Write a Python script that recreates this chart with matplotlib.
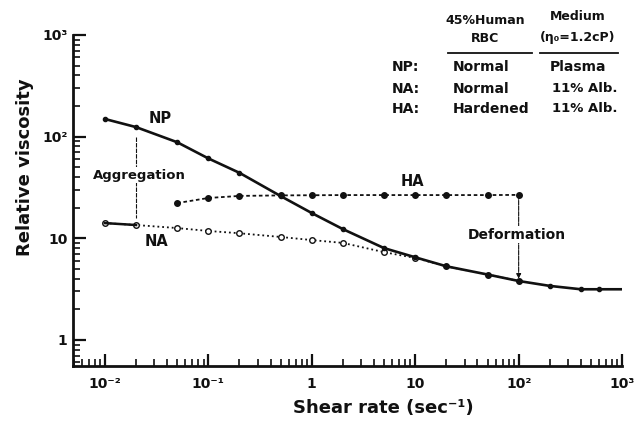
import numpy as np
import matplotlib
matplotlib.use("Agg")
import matplotlib.pyplot as plt
from matplotlib.ticker import FixedLocator, LogLocator, NullFormatter

# Data (shear rate in 1/s, relative viscosity)
np_rate = [0.01, 0.02, 0.05, 0.1, 0.2, 0.5, 1, 2, 5, 10, 20, 50, 100, 200, 400, 600, 1000]
np_visc = [149, 124, 88, 61, 44, 26, 17.7, 12.3, 8.0, 6.5, 5.3, 4.4, 3.8, 3.4, 3.15, 3.15, 3.15]

na_rate = [0.01, 0.02, 0.05, 0.1, 0.2, 0.5, 1, 2, 5, 10, 20, 50, 100]
na_visc = [14.1, 13.5, 12.6, 11.8, 11.2, 10.3, 9.6, 9.0, 7.3, 6.4, 5.3, 4.4, 3.8]

ha_rate = [0.05, 0.1, 0.2, 0.5, 1, 2, 5, 10, 20, 50, 100]
ha_visc = [22.2, 24.9, 26.1, 26.4, 26.5, 26.6, 26.6, 26.6, 26.6, 26.6, 26.7]

x_ticks = [1e-2, 1e-1, 1, 10, 1e2, 1e3]
x_ticklabels = ["10⁻²", "10⁻¹", "1", "10", "10²", "10³"]
y_ticks = [1, 10, 1e2, 1e3]
y_ticklabels = ["1", "10", "10²", "10³"]

# table text
tbl_rows = ["NP:", "NA:", "HA:"]
tbl_rbc = ["Normal", "Normal", "Hardened"]
tbl_medium = ["Plasma", "11% Alb.", "11% Alb."]

ink = "#111111"
plt.rcParams["font.family"] = ["DejaVu Sans"]

fig = plt.figure(figsize=(6.4, 4.26), dpi=100)
ax = fig.add_axes([0.114, 0.141, 0.858, 0.777])
ax.set_xscale("log")
ax.set_yscale("log")
ax.set_xlim(0.00491, 1000)
ax.set_ylim(0.555, 1000)

# curves
ax.plot(np_rate, np_visc, "-", color=ink, lw=1.9, marker="o", ms=3,
        markevery=list(range(len(np_rate) - 1)), zorder=4)
ax.plot(na_rate, na_visc, ":", color=ink, lw=1.3, marker="o", ms=4,
        mfc="white", mec=ink, mew=1.0, zorder=3)
ax.plot(na_rate[:2], na_visc[:2], "-", color=ink, lw=1.8, zorder=3)
ax.plot(ha_rate, ha_visc, color=ink, lw=1.3, ls=(0, (2, 1.5)), marker="o", ms=4,
        zorder=3)

# aggregation / deformation markers
ax.plot([np_rate[1], np_rate[1]], [99, 15.8], color=ink, lw=0.8, ls=(0, (4, 1)), zorder=2)
ax.annotate("", xy=(ha_rate[-1], 4.0), xytext=(ha_rate[-1], ha_visc[-1]),
            arrowprops=dict(arrowstyle="-|>", color=ink, lw=0.8, ls=(0, (4, 1)),
                            mutation_scale=7, shrinkA=0, shrinkB=0), zorder=2)

lab = dict(fontweight="bold", color=ink, ha="center", va="center")
ax.text(0.034, 152, "NP", fontsize=10.5, **lab)
ax.text(0.0318, 9.2, "NA", fontsize=10.5, **lab)
ax.text(9.5, 35.8, "HA", fontsize=10.5, **lab)
ax.text(0.0213, 41.9, "Aggregation", fontsize=9.5, zorder=5,
        bbox=dict(fc="white", ec="none", pad=1), **lab)
ax.text(96.6, 10.8, "Deformation", fontsize=10, zorder=5,
        bbox=dict(fc="white", ec="none", pad=1), **lab)

# axes styling
for s in ["top", "right"]:
    ax.spines[s].set_visible(False)
for s in ["left", "bottom"]:
    ax.spines[s].set_linewidth(2)
    ax.spines[s].set_color(ink)

ax.xaxis.set_major_locator(FixedLocator(x_ticks))
ax.set_xticklabels(x_ticklabels)
ax.yaxis.set_major_locator(FixedLocator(y_ticks))
ax.set_yticklabels(y_ticklabels)
ax.xaxis.set_minor_locator(LogLocator(base=10, subs=np.arange(2, 10), numticks=20))
ax.yaxis.set_minor_locator(LogLocator(base=10, subs=np.arange(2, 10), numticks=20))
ax.xaxis.set_minor_formatter(NullFormatter())
ax.yaxis.set_minor_formatter(NullFormatter())
ax.tick_params(which="major", direction="in", length=9, width=1.6, color=ink,
               labelsize=10, labelcolor=ink)
ax.tick_params(which="minor", direction="in", length=5, width=1.2, color=ink)
ax.tick_params(axis="x", which="major", pad=8)
ax.tick_params(axis="y", which="major", pad=4)
for t in ax.get_xticklabels() + ax.get_yticklabels():
    t.set_fontweight("bold")

fig.text(25 / 640, 1 - 167 / 426, "Relative viscosity", rotation=90, fontsize=13,
         fontweight="bold", color=ink, ha="center", va="center")
fig.text(383 / 640, 1 - 408 / 426, "Shear rate (sec⁻¹)", fontsize=13,
         fontweight="bold", color=ink, ha="center", va="center")

# table in the top right corner
def ftxt(px, py, s, ha="left", size=10):
    fig.text(px / 640, 1 - py / 426, s, fontsize=size, fontweight="bold", color=ink,
             ha=ha, va="center")

ftxt(485, 20, "45%Human", "center", 9)
ftxt(485, 39, "RBC", "center", 9)
ftxt(578, 17, "Medium", "center", 9)
ftxt(578, 37, "(η₀=1.2cP)", "center", 9)
fig.add_artist(plt.Line2D([448 / 640, 532 / 640], [1 - 53 / 426] * 2, color=ink, lw=1.3))
fig.add_artist(plt.Line2D([540 / 640, 618 / 640], [1 - 53 / 426] * 2, color=ink, lw=1.3))
for i, (r, c, m) in enumerate(zip(tbl_rows, tbl_rbc, tbl_medium)):
    py = [67, 89, 109][i]
    ftxt(392, py, r)
    ftxt(453, py, c)
    if i == 0:
        ftxt(578, py, m, "center")
    else:
        ftxt(618, py, m, "right", 9.5)

fig.savefig("out.png", dpi=100)
